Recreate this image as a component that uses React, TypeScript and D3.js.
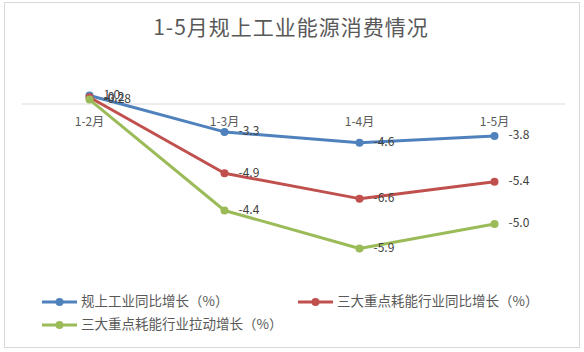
import React from 'react';
import * as d3 from 'd3';

const categories = ['1-2月', '1-3月', '1-4月', '1-5月'];
const seriesNames = ['规上工业同比增长（%）', '三大重点耗能行业同比增长（%）', '三大重点耗能行业拉动增长（%）'];
const industryGrowth = [1.0, -3.3, -4.6, -3.8];
const keyIndustryGrowth = [-0.2, -4.9, -6.6, -5.4];
const keyIndustryPull = [-0.28, -4.4, -5.9, -5.0];
const labelText = [
  ['1.0', '-3.3', '-4.6', '-3.8'],
  ['-0.2', '-4.9', '-6.6', '-5.4'],
  ['-0.28', '-4.4', '-5.9', '-5.0'],
];
const colors = ['#4f81bd', '#c0504d', '#9bbb59'];

const W = 584;
const H = 352;
const font = '"Noto Sans CJK SC", "Noto Sans", sans-serif';

const App = () => {
  // stacked line chart: each series sits on top of the previous ones
  const raw = [industryGrowth, keyIndustryGrowth, keyIndustryPull];
  const stacked: number[][] = [];
  raw.forEach((s, i) => {
    stacked.push(s.map((v, j) => (i === 0 ? v : stacked[i - 1][j] + v)));
  });

  const x = d3.scaleBand().domain(categories).range([22, 562]);
  const cx = (c: string) => (x(c) as number) + x.bandwidth() / 2;
  const y = d3.scaleLinear().domain([-20, 2]).range([273, 87.1]);

  const line = d3.line<number>()
    .x((_, i) => cx(categories[i]))
    .y(d => y(d));

  const legend = [
    { i: 0, x: 42, y: 302 },
    { i: 1, x: 298, y: 302 },
    { i: 2, x: 42, y: 325 },
  ];

  return (
    <svg width={W} height={H} style={{ position: 'absolute', left: 0, top: 0, background: '#fff' }} fontFamily={font}>
      <rect x={4.5} y={2.5} width={575} height={345} fill="#fff" stroke="#d9d9d9" />
      <text x={291} y={29} textAnchor="middle" dominantBaseline="middle" fontSize={21} fill="#595959" letterSpacing={1}>
        1-5月规上工业能源消费情况
      </text>

      {/* category axis */}
      <line x1={22} x2={565} y1={y(0)} y2={y(0)} stroke="#d9d9d9" strokeWidth={1} />
      {categories.map(c => (
        <text key={c} x={cx(c)} y={123} textAnchor="middle" dominantBaseline="middle" fontSize={12} fill="#595959">
          {c}
        </text>
      ))}

      {stacked.map((s, i) => (
        <g key={i}>
          <path d={line(s) as string} fill="none" stroke={colors[i]} strokeWidth={3} strokeLinejoin="round" />
          {s.map((v, j) => (
            <circle key={j} cx={cx(categories[j])} cy={y(v)} r={4} fill={colors[i]} />
          ))}
        </g>
      ))}

      {stacked.map((s, i) =>
        s.map((v, j) => (
          <text key={`${i}-${j}`} x={cx(categories[j]) + 14} y={y(v)} dominantBaseline="middle" fontSize={12} fill="#404040">
            {labelText[i][j]}
          </text>
        ))
      )}

      {legend.map(l => (
        <g key={l.i}>
          <line x1={l.x} x2={l.x + 35} y1={l.y} y2={l.y} stroke={colors[l.i]} strokeWidth={3} />
          <circle cx={l.x + 17.5} cy={l.y} r={4} fill={colors[l.i]} />
          <text x={l.x + 39} y={l.y} dominantBaseline="middle" fontSize={13.5} fill="#595959">
            {seriesNames[l.i]}
          </text>
        </g>
      ))}
    </svg>
  );
};

export default App;
